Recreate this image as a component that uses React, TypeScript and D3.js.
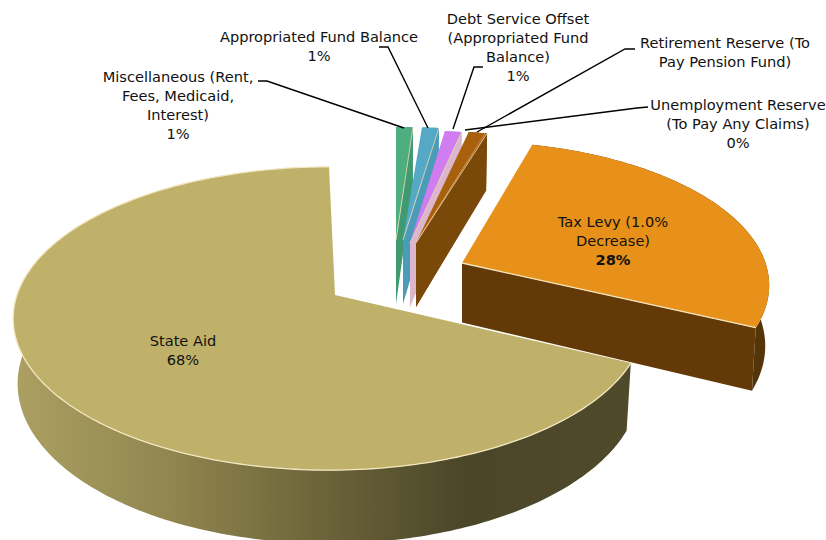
import React from 'react';
import * as d3 from 'd3';

// slices run clockwise from 12 o'clock
const categories = ['Miscellaneous', 'Appropriated Fund Balance', 'Debt Service Offset', 'Retirement Reserve', 'Unemployment Reserve', 'Tax Levy', 'State Aid'];
const shares = [1, 1, 1, 1, 0.1, 28, 68];

const faceColors = ['#4fae80', '#55a9c6', '#cf7df0', '#a8600c', '#a8600c', '#e8911a', '#bfb16a'];
const wallColors = ['#3f9a72', '#4a9cb8', '#dcb6cc', '#7a4808', '#7a4808', '#633a07', 'url(#stateWall)'];

// screen offset of each slice's tip, and of its rim relative to the tip
const shiftX = [61, 68, 75, 81, 81, 127, 0];
const shiftY = [-55, -55, -52, -52, -52, -32, 0];
const rimNudgeX = [0, 2, 1, 2, 2, 4, -6];
const rimScaleX = [1, 1, 1, 1, 1, 0.96, 1];
const rimScaleY = [0.88, 0.88, 0.88, 0.88, 0.88, 0.95, 1];
const wallScale = [1, 1, 1, 1, 1, 0.93, 1];

const labelLines = [
  ['Miscellaneous (Rent,', 'Fees, Medicaid,', 'Interest)', '1%'],
  ['Appropriated Fund Balance', '1%'],
  ['Debt Service Offset', '(Appropriated Fund', 'Balance)', '1%'],
  ['Retirement Reserve (To', 'Pay Pension Fund)'],
  ['Unemployment Reserve', '(To Pay Any Claims)', '0%'],
  ['Tax Levy (1.0%', 'Decrease)', '28%'],
  ['State Aid', '68%'],
];
const labelX = [178, 319, 518, 725, 738, 613, 183];
const labelY = [82, 42, 24, 48, 110, 227, 346];

// leader polylines: label end, elbow, end on the rim
const leaders: ([number, number][] | null)[] = [
  [[258, 81], [267, 81], [404, 128]],
  [[379, 47], [388, 47], [428, 128]],
  [[483, 67], [474, 67], [453, 129]],
  [[635, 49], [625, 49], [477, 132]],
  [[648, 107], [637, 108], [465, 130]],
  null,
  null,
];

const cx = 335;
const cy = 295;
const rx = 312;
const ry = 148;
const persp = 0.155;
const depth = 64;

// ground plane -> screen; lift 1 is the bottom of the wall
function project(a: number, rX: number, rY: number, lift: number): [number, number] {
  const u = Math.sin(a);
  const v = -Math.cos(a);
  const s = 1 / (1 - persp * v);
  const shrink = 1 - 0.014 * lift;
  return [cx + rx * rX * u * s * shrink, cy + ry * rY * v * s * shrink + depth * s * lift];
}

const pieData = d3.pie<number>().sort(null).startAngle(0).endAngle(2 * Math.PI)(shares);
const line = d3.line<[number, number]>();

function Slice({ i }: { i: number }) {
  const { startAngle: a0, endAngle: a1 } = pieData[i];
  const dx = shiftX[i];
  const dy = shiftY[i];
  const wallDepth = depth * wallScale[i];
  const tip: [number, number] = [cx + dx, cy + dy];
  const tipLow: [number, number] = [cx + dx, cy + dy + wallDepth];

  const n = Math.max(4, Math.ceil(((a1 - a0) * 180) / Math.PI));
  const arc = (lift: number) =>
    d3.range(n + 1).map(k => {
      const p = project(a0 + ((a1 - a0) * k) / n, rimScaleX[i], rimScaleY[i], lift * wallScale[i]);
      return [p[0] + dx + rimNudgeX[i], p[1] + dy] as [number, number];
    });
  const rimTop = arc(0);
  const rimLow = arc(1);

  const endWall = [tip, rimTop[n], rimLow[n], tipLow];
  const rimWall = [...rimTop, ...rimLow.slice().reverse()];
  const face = [tip, ...rimTop];
  const isState = i === categories.length - 1;
  const isTax = i === 5;

  return (
    <g>
      {!isState && <path d={line(endWall) + 'Z'} fill={wallColors[i]} />}
      <path d={line(rimWall) + 'Z'} fill={isTax ? '#55340a' : wallColors[i]} />
      <path d={line(face) + 'Z'} fill={faceColors[i]} />
      {isState ? (
        <path d={line(rimTop) ?? ''} fill="none" stroke="#f3e6c0" strokeWidth={1.3} />
      ) : isTax ? (
        <path d={line([tip, rimTop[n]]) ?? ''} fill="none" stroke="#f3e6c0" strokeWidth={1.3} />
      ) : (
        <path d={line([tip, rimTop[n]]) ?? ''} fill="none" stroke="#f0d8b0" strokeWidth={1} strokeOpacity={0.8} />
      )}
    </g>
  );
}

export default function App() {
  return (
    <svg width={826} height={540} style={{ position: 'absolute', left: 0, top: 0, background: '#fff' }}>
      <defs>
        <linearGradient id="stateWall" gradientUnits="userSpaceOnUse" x1={12} x2={640} y1={0} y2={0}>
          <stop offset="0" stopColor="#aca062" />
          <stop offset="0.25" stopColor="#91864f" />
          <stop offset="0.5" stopColor="#6b6339" />
          <stop offset="0.72" stopColor="#4a4628" />
          <stop offset="1" stopColor="#4f4a2a" />
        </linearGradient>
      </defs>
      <g>
        {[6, 0, 1, 2, 3, 4, 5].map(i => <Slice key={categories[i]} i={i} />)}
      </g>
      <g fill="none" stroke="#000" strokeWidth={1.4}>
        {leaders.map((pts, i) => pts && <path key={categories[i]} d={line(pts) ?? ''} />)}
      </g>
      <g fontFamily="'DejaVu Sans', sans-serif" fontSize={14.6} textAnchor="middle" fill="#111">
        {labelLines.map((lines, i) => (
          <text key={categories[i]} x={labelX[i]} y={labelY[i]}>
            {lines.map((t, j) => (
              <tspan key={j} x={labelX[i]} dy={j === 0 ? 0 : 19} fontWeight={i === 5 && j === 2 ? 'bold' : 'normal'}>{t}</tspan>
            ))}
          </text>
        ))}
      </g>
    </svg>
  );
}
